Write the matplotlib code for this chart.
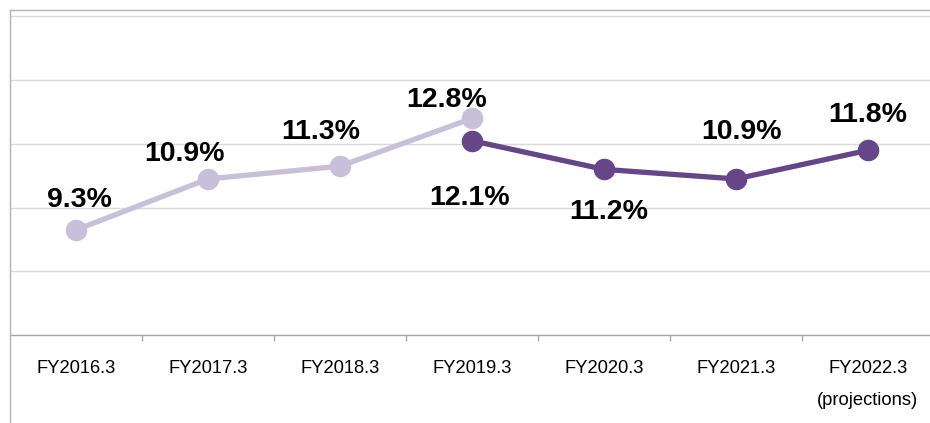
import matplotlib.pyplot as plt
from matplotlib.lines import Line2D

plt.rcParams['font.family'] = ['Liberation Sans', 'DejaVu Sans']

# datos
categorias = ["FY2016.3", "FY2017.3", "FY2018.3", "FY2019.3", "FY2020.3", "FY2021.3", "FY2022.3"]
valores_antes = [9.3, 10.9, 11.3, 12.8]
valores_despues = [12.1, 11.2, 10.9, 11.8]
idx_antes = [0, 1, 2, 3]
idx_despues = [3, 4, 5, 6]

c_claro = "#c8bfd9"
c_oscuro = "#654689"

W, H = 930, 423
fig = plt.figure(figsize=(W / 100, H / 100), dpi=100)
# area de graficado en pixeles: x 10..934, y 10..335
ax = fig.add_axes([10 / W, (H - 335) / H, 924 / W, 325 / H])

ax.plot(idx_antes, valores_antes, color=c_claro, lw=3.8, marker="o", ms=14.5, zorder=3)
ax.plot(idx_despues, valores_despues, color=c_oscuro, lw=3.8, marker="o", ms=14.5, zorder=4)

ax.set_xlim(-0.5, 6.5)
ax.set_ylim(6, 6 + 325 / 63.7 * 2)

# grilla horizontal
for y in [8, 10, 12, 14, 16]:
    ax.axhline(y, color="#d9d9d9", lw=1.0, zorder=1)

for s in ["top", "right", "left"]:
    ax.spines[s].set_visible(False)
ax.spines["bottom"].set_color("#a6a6a6")
ax.spines["bottom"].set_linewidth(1.0)

ax.set_yticks([])
ax.set_xticks(range(len(categorias)))
ax.set_xticklabels(categorias, fontsize=13.2, color="#000000")
ax.tick_params(axis="x", which="major", length=0, pad=18)
ax.set_xticks([i + 0.5 for i in range(6)], minor=True)
ax.tick_params(axis="x", which="minor", length=4, color="#a6a6a6", width=1)

# etiquetas de valores (dx en datos, dy en puntos)
etq_antes = [(0.027, 21.5), (-0.18, 18), (-0.144, 24.6), (-0.193, 13.2)]
etq_despues = [(-0.02, -41.6), (0.034, -31), (0.04, 33.8), (0.0, 25.4)]
for i, v, (dx, dy) in zip(idx_antes, valores_antes, etq_antes):
    ax.annotate(f"{v:.1f}%", (i + dx, v), xytext=(0, dy), textcoords="offset points",
                ha="center", va="center", fontsize=20.5, fontweight="bold")
for i, v, (dx, dy) in zip(idx_despues, valores_despues, etq_despues):
    ax.annotate(f"{v:.1f}%", (i + dx, v), xytext=(0, dy), textcoords="offset points",
                ha="center", va="center", fontsize=20.5, fontweight="bold")

fig.text(867 / W, 1 - 400 / H, "(projections)", ha="center", va="center", fontsize=13.2)

# marco del grafico
fig.add_artist(Line2D([10 / W, 10 / W], [0, 1 - 10 / H], color="#b3b3b3", lw=1.0))
fig.add_artist(Line2D([10 / W, 1], [1 - 10 / H, 1 - 10 / H], color="#b3b3b3", lw=1.0))

fig.savefig("out.png", dpi=100)
